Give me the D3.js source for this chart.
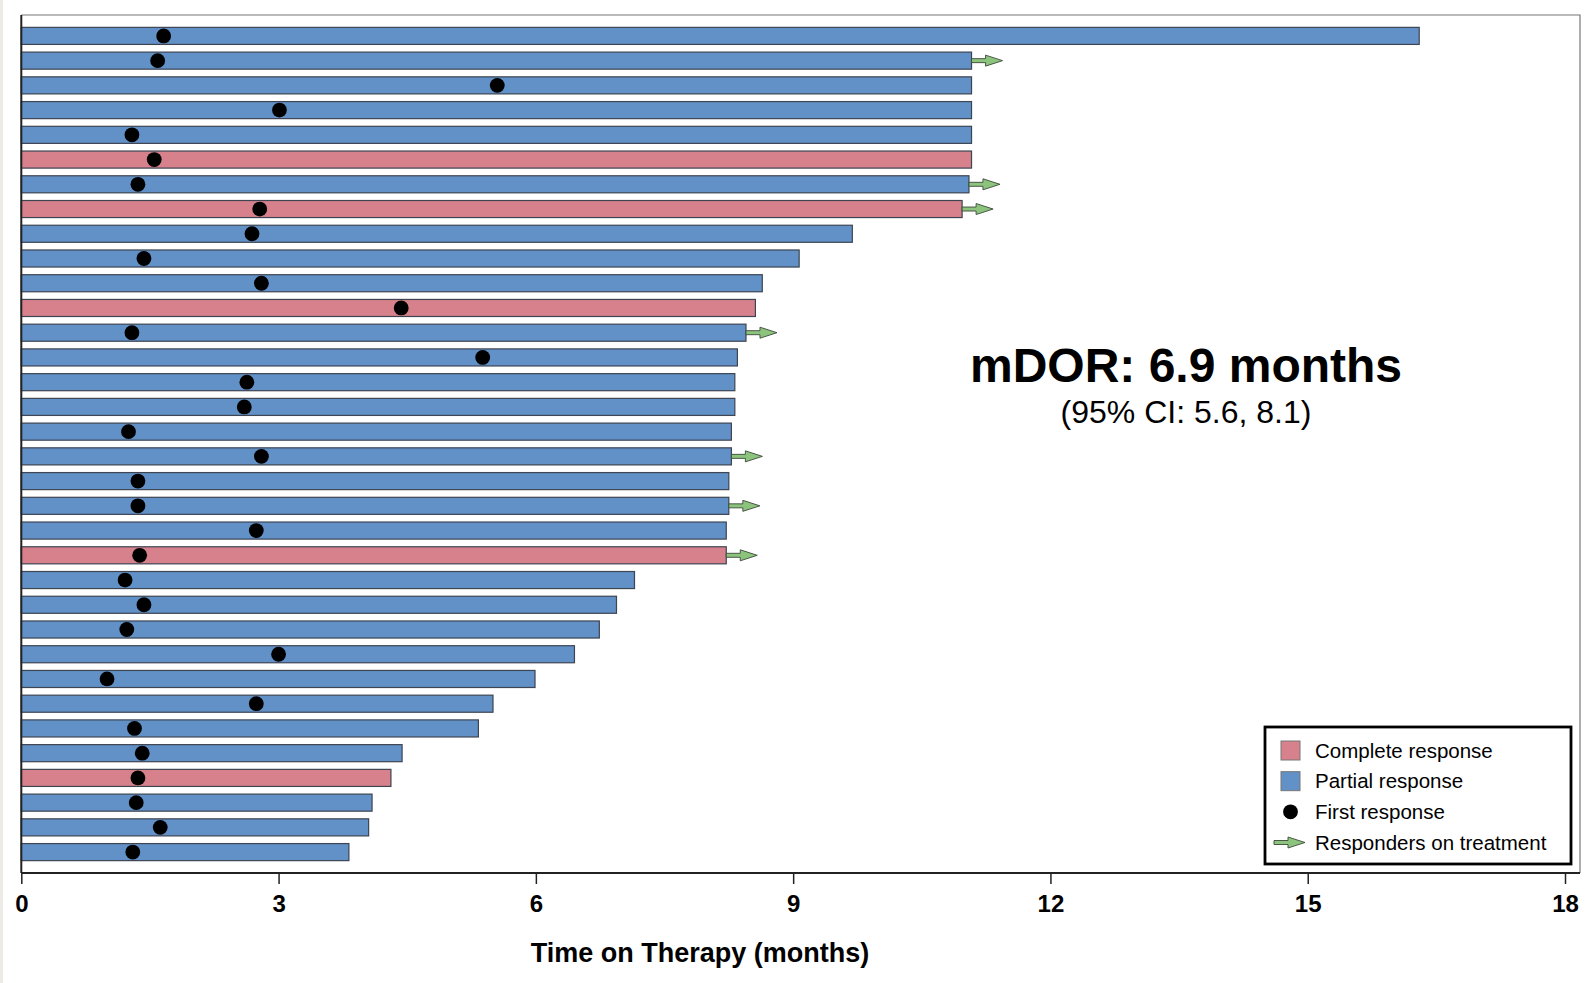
<!DOCTYPE html>
<html>
<head>
<meta charset="utf-8">
<script src="https://cdn.jsdelivr.net/npm/d3@7"></script>
<style>
  body { margin: 0; background: #fff; }
  svg text { font-family: "Liberation Sans", Arial, Helvetica, sans-serif; }
</style>
</head>
<body>
<svg id="chart"></svg>
<script>
// one row per responder, top to bottom
const duration = [16.30, 11.08, 11.08, 11.08, 11.08, 11.08, 11.05, 10.97, 9.69, 9.07,
  8.64, 8.56, 8.45, 8.35, 8.32, 8.32, 8.28, 8.28, 8.25, 8.25,
  8.22, 8.22, 7.15, 6.94, 6.74, 6.45, 5.99, 5.50, 5.33, 4.44,
  4.31, 4.09, 4.05, 3.82];
const firstResponse = [1.66, 1.59, 5.55, 3.01, 1.29, 1.55, 1.36, 2.78, 2.69, 1.43,
  2.80, 4.43, 1.29, 5.38, 2.63, 2.60, 1.25, 2.80, 1.36, 1.36,
  2.74, 1.38, 1.21, 1.43, 1.23, 3.00, 1.00, 2.74, 1.32, 1.41,
  1.36, 1.34, 1.62, 1.30];
const responseType = ["PR","PR","PR","PR","PR","CR","PR","CR","PR","PR",
  "PR","CR","PR","PR","PR","PR","PR","PR","PR","PR",
  "PR","CR","PR","PR","PR","PR","PR","PR","PR","PR",
  "CR","PR","PR","PR"];
const onTreatment = [0,1,0,0,0,0,1,1,0,0,
  0,0,1,0,0,0,0,1,0,1,
  0,1,0,0,0,0,0,0,0,0,
  0,0,0,0];
const xTicks = [0, 3, 6, 9, 12, 15, 18];
const legendLabels = ["Complete response", "Partial response", "First response", "Responders on treatment"];

const colors = { CR: "#d6818c", PR: "#6191c6" };
const arrowGreen = "#8dc47d";

let width = 1595, height = 983;
let margin = { top: 15, right: 15, bottom: 110, left: 21.3 };
let plotRight = 1580;
let axisY = 873;

let svg = d3.select('#chart').attr('width', width).attr('height', height);

// faint strip on the left edge of the original scan
svg.append('rect').attr('x', 0).attr('y', 0).attr('width', 3).attr('height', height).attr('fill', '#ecebe6');

let x = d3.scaleLinear().domain([0, 18]).range([margin.left, 1565]);
let rows = duration.map((d, i) => i);
let y = d3.scaleBand()
  .domain(rows)
  .range([margin.top, axisY])
  .paddingInner(0.31)
  .paddingOuter(0.5);

// frame (top + right)
svg.append('path')
  .attr('d', `M${x(0)},${margin.top}H${plotRight}V${axisY}`)
  .attr('fill', 'none')
  .attr('stroke', '#777')
  .attr('stroke-width', 1.2);

// bars
svg.append('g')
  .selectAll('rect')
  .data(rows)
  .enter()
  .append('rect')
  .attr('x', x(0))
  .attr('y', i => y(i))
  .attr('width', i => x(duration[i]) - x(0))
  .attr('height', y.bandwidth())
  .attr('fill', i => colors[responseType[i]])
  .attr('stroke', '#3d4452')
  .attr('stroke-width', 1.2);

// arrows for responders still on treatment
function arrowPath(x0, cy) {
  let shaft = 14, head = 17, sh = 2, hh = 5.5;
  return `M${x0},${cy - sh}H${x0 + shaft}V${cy - hh}L${x0 + shaft + head},${cy}L${x0 + shaft},${cy + hh}V${cy + sh}H${x0}Z`;
}
svg.append('g')
  .selectAll('path')
  .data(rows.filter(i => onTreatment[i]))
  .enter()
  .append('path')
  .attr('d', i => arrowPath(x(duration[i]), y(i) + y.bandwidth() / 2))
  .attr('fill', arrowGreen)
  .attr('stroke', '#3b4a3a')
  .attr('stroke-width', 0.9);

// first response dots
svg.append('g')
  .selectAll('circle')
  .data(rows)
  .enter()
  .append('circle')
  .attr('cx', i => x(firstResponse[i]))
  .attr('cy', i => y(i) + y.bandwidth() / 2)
  .attr('r', 7.4)
  .attr('fill', '#000');

// left axis line
svg.append('line')
  .attr('x1', x(0)).attr('x2', x(0))
  .attr('y1', margin.top).attr('y2', axisY)
  .attr('stroke', '#222').attr('stroke-width', 2);

// x axis
let xAxis = d3.axisBottom(x).tickValues(xTicks).tickSize(11).tickPadding(11).tickFormat(d3.format('d'));
let gx = svg.append('g')
  .attr('transform', `translate(0,${axisY})`)
  .call(xAxis);
gx.select('.domain').attr('d', `M${x(0)},0H${plotRight}`).attr('stroke', '#222').attr('stroke-width', 1.8);
gx.selectAll('.tick line').attr('stroke', '#222').attr('stroke-width', 1.5);
gx.selectAll('.tick text')
  .attr('fill', '#000')
  .style('font-size', '24px')
  .style('font-weight', 'bold')
  .style('font-family', '"Liberation Sans", Arial, sans-serif');

svg.append('text')
  .attr('x', 700)
  .attr('y', 962)
  .attr('text-anchor', 'middle')
  .style('font-size', '27px')
  .style('font-weight', 'bold')
  .text('Time on Therapy (months)');

// annotation
svg.append('text')
  .attr('x', 1186)
  .attr('y', 382)
  .attr('text-anchor', 'middle')
  .style('font-size', '48px')
  .style('font-weight', 'bold')
  .text('mDOR: 6.9 months');
svg.append('text')
  .attr('x', 1186)
  .attr('y', 423)
  .attr('text-anchor', 'middle')
  .style('font-size', '32px')
  .text('(95% CI: 5.6, 8.1)');

// legend
let legend = svg.append('g');
legend.append('rect')
  .attr('x', 1265).attr('y', 727)
  .attr('width', 306).attr('height', 137)
  .attr('fill', '#fff')
  .attr('stroke', '#000')
  .attr('stroke-width', 2.8);

let legendY = d3.scalePoint().domain(legendLabels).range([750.5, 842.5]);
let swatchX = 1290.5;
legendLabels.forEach((label, i) => {
  let cy = legendY(label);
  if (i < 2) {
    legend.append('rect')
      .attr('x', swatchX - 9.5).attr('y', cy - 9.5)
      .attr('width', 19).attr('height', 19)
      .attr('fill', i === 0 ? colors.CR : colors.PR)
      .attr('stroke', '#777').attr('stroke-width', 1);
  } else if (i === 2) {
    legend.append('circle').attr('cx', swatchX).attr('cy', cy).attr('r', 7.4).attr('fill', '#000');
  } else {
    legend.append('path')
      .attr('d', arrowPath(1274, cy))
      .attr('fill', arrowGreen)
      .attr('stroke', '#3b4a3a')
      .attr('stroke-width', 0.9);
  }
  legend.append('text')
    .attr('x', 1315)
    .attr('y', cy + 7)
    .style('font-size', '20.5px')
    .text(label);
});
</script>
</body>
</html>
